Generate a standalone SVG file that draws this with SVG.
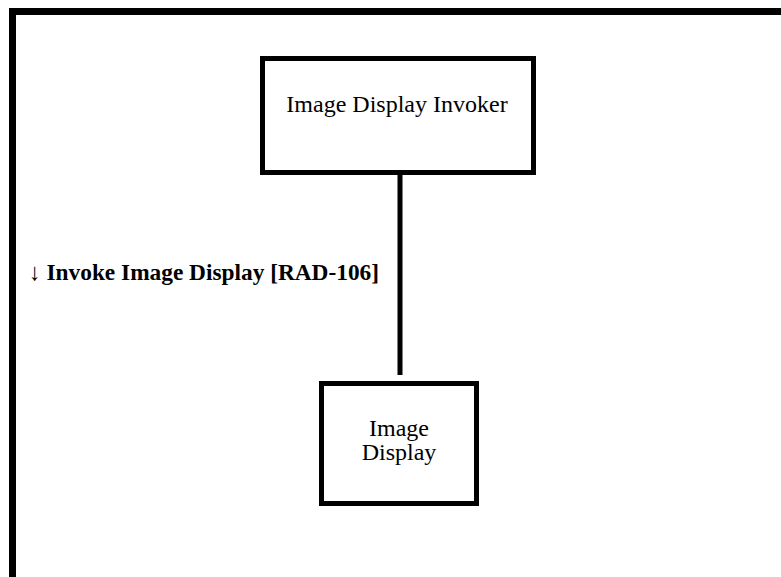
<svg xmlns="http://www.w3.org/2000/svg" width="781" height="577" viewBox="0 0 781 577">
<style>
.box{fill:#fff;stroke:#000;stroke-width:5}
.t{font-family:"Liberation Serif","Times New Roman",serif;font-size:24px;fill:#000;text-anchor:middle}
.lbl{font-family:"Liberation Serif","Times New Roman",serif;font-size:24px;font-weight:bold;fill:#000}
</style>
<rect width="781" height="577" fill="#fff"/>
<path d="M12.5,577 V11.5 H781" fill="none" stroke="#000" stroke-width="7"/>
<g id="connectors">
<line x1="400" y1="175" x2="400" y2="375" stroke="#000" stroke-width="5"/>
<text class="lbl" x="29" y="280" textLength="350" lengthAdjust="spacingAndGlyphs">↓ Invoke Image Display [RAD-106]</text>
</g>
<g id="invoker">
<rect class="box" x="262.5" y="58.5" width="271" height="114"/>
<text class="t" x="397" y="112">Image Display Invoker</text>
</g>
<g id="display">
<rect class="box" x="321.5" y="383.5" width="155" height="120"/>
<text class="t" x="399" y="436">Image</text>
<text class="t" x="399" y="460">Display</text>
</g>
</svg>
